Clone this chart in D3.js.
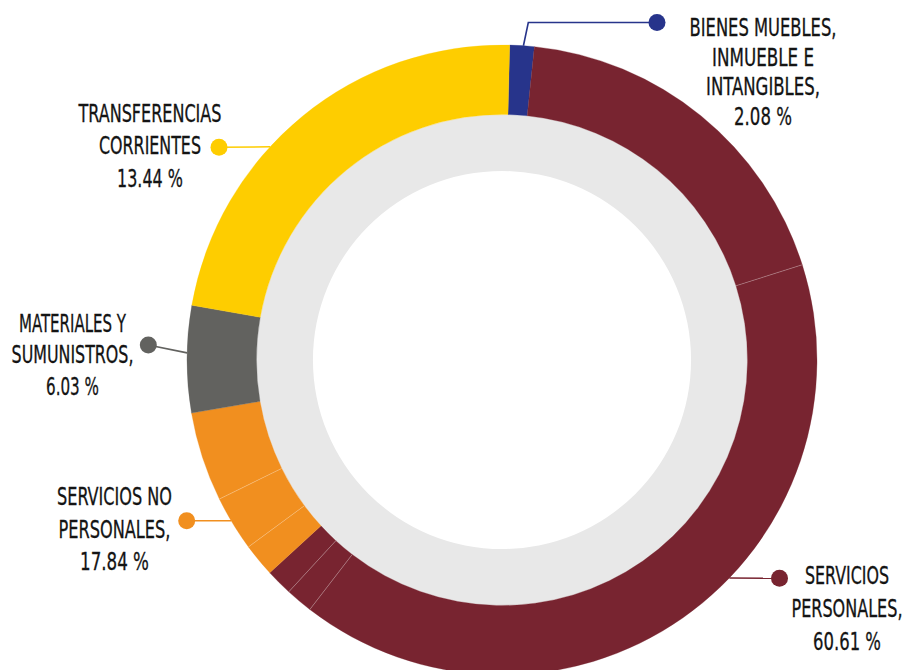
<!DOCTYPE html>
<html>
<head>
<meta charset="utf-8">
<script src="https://cdn.jsdelivr.net/npm/d3@7/dist/d3.min.js"></script>
<style>
  html, body { margin: 0; padding: 0; background: #fff; }
  svg { display: block; }
  text { font-family: "Liberation Sans Narrow", "DejaVu Sans Condensed", "Roboto", sans-serif; fill: #141414; }
</style>
</head>
<body>
<svg id="chart" width="905" height="670"></svg>
<script>
// ---- Data ----
// Ring slices in drawing order, clockwise from the top (arc share in degrees as drawn)
const sliceGroups = ["bienes", "personales", "personales", "personales", "personales",
                     "noPersonales", "noPersonales", "noPersonales", "materiales", "transferencias"];
const sliceValues = [4.5, 66.5, 145.2, 5.0, 4.9, 6.1, 10.2, 16.5, 19.7, 81.4];

// Categories with their labels
const categories = ["bienes", "personales", "noPersonales", "materiales", "transferencias"];
const categoryNames = [
  ["BIENES MUEBLES,", "INMUEBLE E", "INTANGIBLES,"],
  ["SERVICIOS", "PERSONALES,"],
  ["SERVICIOS NO", "PERSONALES,"],
  ["MATERIALES Y", "SUMUNISTROS,"],
  ["TRANSFERENCIAS", "CORRIENTES"]
];
const categoryPercents = ["2.08 %", "60.61 %", "17.84 %", "6.03 %", "13.44 %"];

// ---- Styles ----
const colors = {
  bienes: "#27348B",
  personales: "#782430",
  noPersonales: "#F18F1F",
  materiales: "#62625F",
  transferencias: "#FECD00"
};

// ---- Layout ----
const cx = 502, cy = 360;
const outerR = 315, ringR = 245.5, holeR = 189;
const startDeg = 1.4;

// label layout: text centre x, first baseline y, line step, line widths, dot position, anchor angle on ring
const labelLayout = {
  bienes:        { x: 763,   y: 36,    step: 29.5, widths: [147, 102, 114, 58],  dot: [657, 22.5], anchorDeg: 3.9, elbow: [528.3, 22.5] },
  personales:    { x: 847,   y: 583.5, step: 33,   widths: [84, 111, 68],        dot: [779.5, 578.3], anchorDeg: 133.8 },
  noPersonales:  { x: 114.5, y: 505,   step: 32.5, widths: [115, 112, 69],       dot: [186.7, 520.7], anchorDeg: 239.3 },
  materiales:    { x: 72.5,  y: 331.5, step: 31.7, widths: [107, 122, 53],       dot: [148.3, 345],   anchorDeg: 271.3 },
  transferencias:{ x: 150,   y: 121.5, step: 32.5, widths: [143, 102, 66],       dot: [219, 147.3],   anchorDeg: 312.6 }
};

const svg = d3.select("#chart");
const g = svg.append("g").attr("transform", `translate(${cx},${cy})`);

// inner grey ring
g.append("path")
  .attr("d", d3.arc().innerRadius(holeR).outerRadius(ringR).startAngle(0).endAngle(2 * Math.PI)())
  .attr("fill", "#E8E8E8");

// pie slices
const rad = d => d * Math.PI / 180;
const pie = d3.pie().sort(null).value(d => d.value)
  .startAngle(rad(startDeg)).endAngle(rad(startDeg) + 2 * Math.PI);
const sliceData = sliceValues.map((v, i) => ({ value: v, group: sliceGroups[i] }));
const arc = d3.arc().innerRadius(ringR).outerRadius(outerR);
const pies = pie(sliceData);

g.selectAll("path.slice")
  .data(pies)
  .join("path")
  .attr("class", "slice")
  .attr("d", arc)
  .attr("fill", d => colors[d.data.group])
  .attr("stroke", d => colors[d.data.group])
  .attr("stroke-width", 0.3);

// faint separators between slices of the same category
pies.forEach((p, i) => {
  if (i > 0 && pies[i - 1].data.group === p.data.group) {
    const a = p.startAngle;
    g.append("line")
      .attr("x1", Math.sin(a) * ringR).attr("y1", -Math.cos(a) * ringR)
      .attr("x2", Math.sin(a) * outerR).attr("y2", -Math.cos(a) * outerR)
      .attr("stroke", "rgba(255,255,255,0.35)")
      .attr("stroke-width", 0.8);
  }
});

// labels with leader lines
categories.forEach((c, i) => {
  const L = labelLayout[c];
  const a = rad(L.anchorDeg);
  const ax = cx + Math.sin(a) * outerR, ay = cy - Math.cos(a) * outerR;
  const pts = [[ax, ay]];
  if (L.elbow) pts.push(L.elbow);
  pts.push(L.dot);
  svg.append("path")
    .attr("d", d3.line()(pts))
    .attr("fill", "none")
    .attr("stroke", colors[c])
    .attr("stroke-width", 1.6);
  svg.append("circle")
    .attr("cx", L.dot[0]).attr("cy", L.dot[1]).attr("r", 8.5)
    .attr("fill", colors[c]);

  const lines = categoryNames[i].concat([categoryPercents[i]]);
  lines.forEach((t, k) => {
    const tg = svg.append("g");
    const txt = tg.append("text")
      .attr("x", 0)
      .attr("y", 0)
      .attr("text-anchor", "middle")
      .attr("font-size", 24.5)
      .attr("stroke", "#141414")
      .attr("stroke-width", 0.3)
      .text(t);
    const natural = txt.node().getComputedTextLength() || L.widths[k];
    const sx = L.widths[k] / natural;
    tg.attr("transform", `translate(${L.x},${L.y + k * L.step}) scale(${sx},1)`);
  });
});
</script>
</body>
</html>
